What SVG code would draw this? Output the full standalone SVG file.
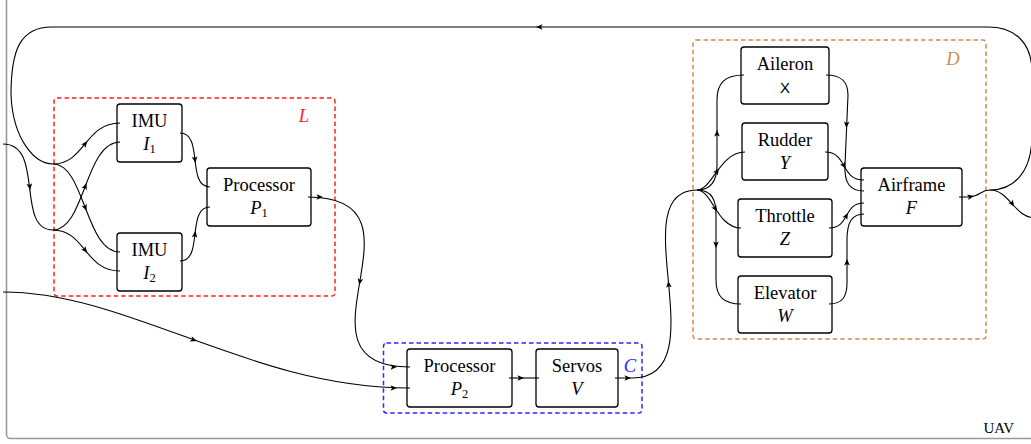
<svg xmlns="http://www.w3.org/2000/svg" xmlns:xlink="http://www.w3.org/1999/xlink" width="1031" height="444" viewBox="0 0 1031 444">
<style>
.box{fill:none;stroke:#000;stroke-width:1.3}
.lbl{font-family:"Liberation Serif",serif;font-size:18.5px;fill:#000;text-anchor:middle}
.it{font-style:italic}
.sub{font-size:12.5px;font-style:normal}
.c{fill:none;stroke:#000;stroke-width:1.1}
.grp{fill:none;stroke-width:1.5;stroke-dasharray:4.5 3}
</style>
<defs>
<path id="ah" d="M3,0 L-3.5,-2.8 L-2,0 L-3.5,2.8 Z" fill="#000"/>
</defs>
<rect width="1031" height="444" fill="#fff"/>
<g id="uav">
<rect x="6.5" y="-20" width="1100" height="458.5" rx="4" fill="none" stroke="#9a9a9a" stroke-width="1.6"/>
<text x="1014" y="433" style="font-family:'Liberation Serif',serif;font-size:15px;text-anchor:end">UAV</text>
</g>
<g id="group-L">
<rect x="54" y="98" width="281" height="198" rx="3" class="grp" stroke="#ff2020"/>
<text x="304" y="122" class="lbl it" fill="#ff2020" style="fill:#ff2020">L</text>
</g>
<g id="group-C">
<rect x="383.5" y="343" width="258.5" height="70" rx="3" class="grp" stroke="#2a2aff"/>
<text x="630" y="372" class="lbl it" style="fill:#2a2aff">C</text>
</g>
<g id="group-D">
<rect x="693" y="40" width="293" height="299" rx="3" class="grp" stroke="#cf8c4c"/>
<text x="953" y="65" class="lbl it" style="fill:#cf8c4c">D</text>
</g>
<g id="imu1"><rect x="117" y="104" width="65" height="58" rx="3" class="box"/>
<text x="149.5" y="127" class="lbl">IMU</text>
<text x="149.5" y="150" class="lbl"><tspan class="it">I</tspan><tspan class="sub" dy="3">1</tspan></text></g>
<g id="imu2"><rect x="117" y="233" width="65" height="58" rx="3" class="box"/>
<text x="149.5" y="256" class="lbl">IMU</text>
<text x="149.5" y="279" class="lbl"><tspan class="it">I</tspan><tspan class="sub" dy="3">2</tspan></text></g>
<g id="proc1"><rect x="207" y="168" width="104" height="58" rx="3" class="box"/>
<text x="259" y="191" class="lbl">Processor</text>
<text x="259" y="214" class="lbl"><tspan class="it">P</tspan><tspan class="sub" dy="3">1</tspan></text></g>
<g id="proc2"><rect x="407" y="349" width="105" height="58" rx="3" class="box"/>
<text x="459.5" y="372" class="lbl">Processor</text>
<text x="459.5" y="395" class="lbl"><tspan class="it">P</tspan><tspan class="sub" dy="3">2</tspan></text></g>
<g id="servos"><rect x="536" y="349" width="82" height="58" rx="3" class="box"/>
<text x="577" y="372" class="lbl">Servos</text>
<text x="577" y="395" class="lbl it">V</text></g>
<g id="aileron"><rect x="741" y="47" width="88" height="57" rx="3" class="box"/>
<text x="785" y="70" class="lbl">Aileron</text>
<text x="785" y="93" style="font-family:'Liberation Sans',sans-serif;font-size:15px;text-anchor:middle">X</text></g>
<g id="rudder"><rect x="742" y="123" width="86" height="57" rx="3" class="box"/>
<text x="785" y="146" class="lbl">Rudder</text>
<text x="785" y="169" class="lbl it">Y</text></g>
<g id="throttle"><rect x="738" y="199" width="94" height="58" rx="3" class="box"/>
<text x="785" y="222" class="lbl">Throttle</text>
<text x="785" y="245" class="lbl it">Z</text></g>
<g id="elevator"><rect x="738" y="276" width="94" height="57" rx="3" class="box"/>
<text x="785" y="299" class="lbl">Elevator</text>
<text x="785" y="322" class="lbl it">W</text></g>
<g id="airframe"><rect x="861" y="168" width="101" height="58" rx="3" class="box"/>
<text x="911.5" y="191" class="lbl">Airframe</text>
<text x="911.5" y="214" class="lbl it">F</text></g>
<g id="connectors">
<path class="c" d="M990 190 C1014 190 1032 172 1032 135 L1032 72 C1032 44 1016 27 988 27 L52 27 C20 27 11 50 11 95 C13 140 35 164 53 164"/>
<use xlink:href="#ah" transform="translate(539,27) rotate(180)"/>
<path class="c" d="M3 144 C45 144 15 230 53 230"/>
<use xlink:href="#ah" transform="translate(29.8,187) rotate(82.7)"/>
<path class="c" d="M53 164 C85 164 85 123 120 123"/>
<use xlink:href="#ah" transform="translate(85.4,143.5) rotate(-50.7)"/>
<path class="c" d="M53 164 C85 164 85 252 120 252"/>
<use xlink:href="#ah" transform="translate(85.4,208) rotate(69)"/>
<path class="c" d="M53 230 C85 230 85 142 120 142"/>
<use xlink:href="#ah" transform="translate(85.4,186) rotate(-69)"/>
<path class="c" d="M53 230 C85 230 85 271 120 271"/>
<use xlink:href="#ah" transform="translate(85.4,250.5) rotate(50.7)"/>
<path class="c" d="M180 133 C204 133 186 187 210 187"/>
<use xlink:href="#ah" transform="translate(195,160) rotate(83.7)"/>
<path class="c" d="M180 261 C204 261 186 207 210 207"/>
<use xlink:href="#ah" transform="translate(195,234) rotate(-83.7)"/>
<path class="c" d="M308 197 C440 197 280 367 410 367"/>
<use xlink:href="#ah" transform="translate(320,197)"/>
<use xlink:href="#ah" transform="translate(359.8,282) rotate(99.7)"/>
<use xlink:href="#ah" transform="translate(394,367)"/>
<path class="c" d="M3 292 C130 292 250 388 410 388"/>
<use xlink:href="#ah" transform="translate(194,340) rotate(20)"/>
<use xlink:href="#ah" transform="translate(394,388)"/>
<path class="c" d="M509 378 L539 378"/>
<use xlink:href="#ah" transform="translate(521,378)"/>
<path class="c" d="M615 378 L632 378 C720 378 620 190 697 190"/>
<use xlink:href="#ah" transform="translate(628,378)"/>
<use xlink:href="#ah" transform="translate(668.6,284) rotate(-95.3)"/>
<path class="c" d="M697 190 C712 190 717 180 717 165 L717 100 C717 83 725 75 744 75"/>
<use xlink:href="#ah" transform="translate(717,133) rotate(-90)"/>
<path class="c" d="M697 190 C712 190 720 152 745 152"/>
<use xlink:href="#ah" transform="translate(717.3,171) rotate(-53.6)"/>
<path class="c" d="M697 190 C712 190 717 228 741 228"/>
<use xlink:href="#ah" transform="translate(715.6,209) rotate(57)"/>
<path class="c" d="M697 190 C712 190 716 200 716 215 L716 280 C716 297 724 304 741 304"/>
<use xlink:href="#ah" transform="translate(716,245) rotate(90)"/>
<path class="c" d="M826 75 C842 75 848 82 848 95 L845 165 C844 183 850 191 864 191"/>
<use xlink:href="#ah" transform="translate(846.5,125) rotate(92.5)"/>
<path class="c" d="M825 152 C848 152 840 180 864 180"/>
<use xlink:href="#ah" transform="translate(844.1,166) rotate(61)"/>
<path class="c" d="M829 228 C850 228 843 203 864 203"/>
<use xlink:href="#ah" transform="translate(846.5,215.5) rotate(-60.8)"/>
<path class="c" d="M829 304 C842 304 847 297 847 283 L847 240 C847 222 852 214 864 214"/>
<use xlink:href="#ah" transform="translate(847,262) rotate(-90)"/>
<path class="c" d="M959 197 L968 197 C980 197 980 190 990 190"/>
<use xlink:href="#ah" transform="translate(971,196.5) rotate(-12)"/>
<path class="c" d="M990 190 C1010 190 1014 218 1036 218"/>
<use xlink:href="#ah" transform="translate(1012.5,204) rotate(55)"/>
</g>
</svg>
